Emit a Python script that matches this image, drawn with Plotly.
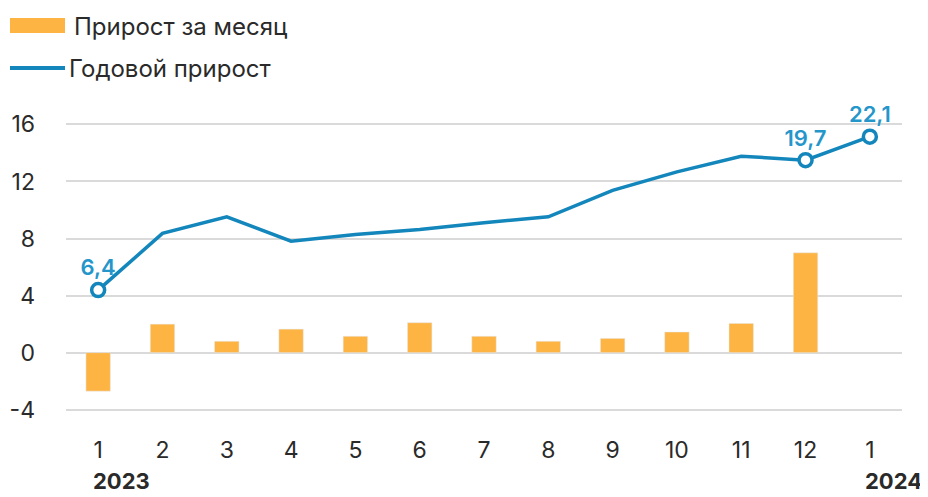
import plotly.graph_objects as go

# data
month_labels = ['1', '2', '3', '4', '5', '6', '7', '8', '9', '10', '11', '12', '1']
monthly_growth = [-2.7, 2.0, 0.8, 1.65, 1.15, 2.1, 1.15, 0.8, 1.0, 1.45, 2.05, 7.0, None]
annual_growth = [6.4, 12.2, 13.9, 11.4, 12.1, 12.6, 13.3, 13.9, 16.6, 18.5, 20.1, 19.7, 22.1]
labeled_points = [0, 11, 12]
year_labels = ['2023', '2024']
y_ticks = [-4, 0, 4, 8, 12, 16]
y_ticktext = ['-4', '0', '4', '8', '12', '16']

BAR_COLOR = '#FDB443'
LINE_COLOR = '#1386BC'
LABEL_COLOR = '#2596CA'
TEXT_COLOR = '#2a2a2a'
FONT = 'Inter'

# page has an 8px body margin, so the figure is a bit smaller than the window
OFF = 8
W, H = 928 - OFF, 497 - OFF
# plot area in screen pixels
P_LEFT, P_RIGHT, P_TOP, P_BOTTOM = 66, 902, 93, 414
ML, MR, MT, MB = P_LEFT - OFF, W - (P_RIGHT - OFF), P_TOP - OFF, H - (P_BOTTOM - OFF)
y_range = [-4.3, 18.2]
scale = 0.685  # annual axis is drawn on a hidden, stretched second scale
y2_range = [v / scale for v in y_range]

x = list(range(len(month_labels)))


def px_x(p):
    return (p - P_LEFT) / (P_RIGHT - P_LEFT)


def px_y(p):
    return (P_BOTTOM - p) / (P_BOTTOM - P_TOP)


fig = go.Figure()

fig.add_trace(go.Bar(x=x, y=monthly_growth, marker_color=BAR_COLOR, width=0.38,
                     name='Прирост за месяц', showlegend=False))

fig.add_trace(go.Scatter(x=x, y=annual_growth, yaxis='y2', mode='lines',
                         line=dict(color=LINE_COLOR, width=3.5),
                         name='Годовой прирост', showlegend=False))

fig.add_trace(go.Scatter(x=[x[i] for i in labeled_points],
                         y=[annual_growth[i] for i in labeled_points],
                         yaxis='y2', mode='markers+text',
                         marker=dict(size=13, color='white', line=dict(color=LINE_COLOR, width=3.5)),
                         text=[f'{annual_growth[i]:.1f}'.replace('.', ',') for i in labeled_points],
                         textposition='top center',
                         textfont=dict(family=FONT, size=22, color=LABEL_COLOR, weight=600),
                         cliponaxis=False, showlegend=False))

fig.update_layout(
    width=W, height=H,
    margin=dict(l=ML, r=MR, t=MT, b=MB),
    plot_bgcolor='white', paper_bgcolor='white',
    font=dict(family=FONT, size=23, color=TEXT_COLOR),
    xaxis=dict(tickvals=x, ticktext=month_labels, range=[-0.5, 12.5],
               showgrid=False, zeroline=False, showline=False,
               ticklabelstandoff=20, automargin=False),
    yaxis=dict(range=y_range, tickvals=y_ticks, ticktext=y_ticktext,
               showgrid=True, gridcolor='#DADADA',
               gridwidth=2, zeroline=False, showline=False,
               ticklabelstandoff=30, automargin=False),
    yaxis2=dict(range=y2_range, overlaying='y', visible=False),
)

# legend drawn by hand: wide swatches like the reference
fig.add_shape(type='rect', xref='paper', yref='paper',
              x0=px_x(10), x1=px_x(65), y0=px_y(33), y1=px_y(18),
              fillcolor=BAR_COLOR, line_width=0)
fig.add_shape(type='line', xref='paper', yref='paper',
              x0=px_x(10), x1=px_x(65), y0=px_y(68), y1=px_y(68),
              line=dict(color=LINE_COLOR, width=4))
fig.add_annotation(text='Прирост за месяц', xref='paper', yref='paper',
                   x=px_x(72), y=px_y(27), xanchor='left', yanchor='middle',
                   showarrow=False, font=dict(size=24))
fig.add_annotation(text='Годовой прирост', xref='paper', yref='paper',
                   x=px_x(67), y=px_y(68), xanchor='left', yanchor='middle',
                   showarrow=False, font=dict(size=24))

# year captions under the first and last month
fig.add_annotation(text=f'<b>{year_labels[0]}</b>', xref='paper', yref='paper',
                   x=px_x(91), y=px_y(496), xanchor='left', yanchor='bottom',
                   showarrow=False, font=dict(size=22))
fig.add_annotation(text=f'<b>{year_labels[1]}</b>', xref='paper', yref='paper',
                   x=px_x(924), y=px_y(496), xanchor='right', yanchor='bottom',
                   showarrow=False, font=dict(size=22))

fig.write_html('out.html')
